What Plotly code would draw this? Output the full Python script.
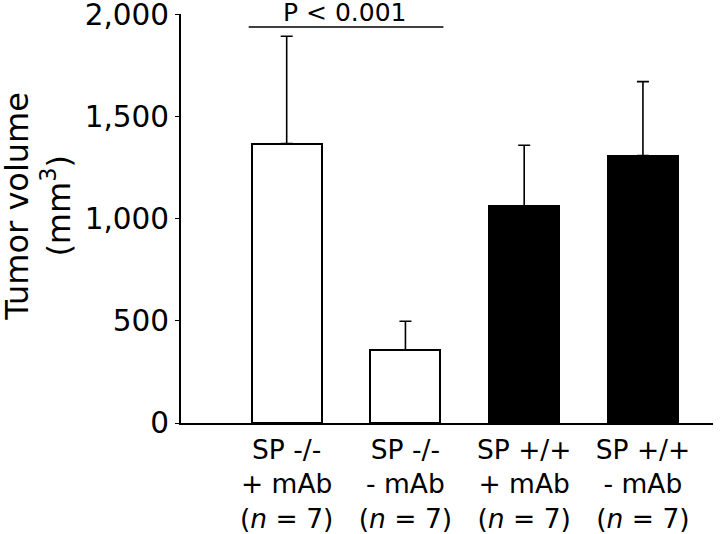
import plotly.graph_objects as go

categories = ["SP -/-<br>+ mAb<br>(<i>n</i> = 7)",
              "SP -/-<br>- mAb<br>(<i>n</i> = 7)",
              "SP +/+<br>+ mAb<br>(<i>n</i> = 7)",
              "SP +/+<br>- mAb<br>(<i>n</i> = 7)"]
positions = [0, 1, 2, 3]
volumes = [1367, 356, 1062, 1308]
errors = [525, 142, 297, 362]
fills = ["white", "white", "black", "black"]
tick_vals_y = [0, 500, 1000, 1500, 2000]
y_title = "Tumor volume<br>(mm<sup>3</sup>)"
p_text = "P < 0.001"
p_level = 1937

FONT = "DejaVu Sans"

fig = go.Figure()
fig.add_trace(go.Bar(
    x=positions, y=volumes, width=0.59,
    marker=dict(color=fills, line=dict(color="black", width=2)),
    error_y=dict(type="data", array=errors, arrayminus=[0]*4, symmetric=False,
                 color="black", thickness=1.6, width=6),
    showlegend=False,
))

fig.add_shape(type="line", xref="x", yref="y", x0=-0.32, x1=1.32,
              y0=p_level, y1=p_level, line=dict(color="black", width=1.5))
fig.add_annotation(x=0.49, y=p_level, xref="x", yref="y", text=p_text,
                   showarrow=False, yanchor="bottom", yshift=-2,
                   font=dict(family=FONT, size=25, color="black"))
fig.add_annotation(x=-0.347, y=0.53, xref="paper", yref="paper", text=y_title,
                   textangle=-90, showarrow=False, xanchor="left", yanchor="middle",
                   align="center",
                   font=dict(family=FONT, size=32, color="black"))

fig.update_layout(
    width=720, height=534,
    margin=dict(l=181, r=7, t=14, b=111, autoexpand=False),
    paper_bgcolor="white", plot_bgcolor="white",
    font=dict(family=FONT, color="black"),
    bargap=0,
)
fig.update_xaxes(
    range=[-0.89, 3.59], tickvals=positions, ticktext=categories,
    showline=True, linecolor="black", linewidth=2,
    ticks="outside", ticklen=2, tickcolor="rgba(0,0,0,0)",
    tickfont=dict(family=FONT, size=26.5, color="black"),
    showgrid=False, zeroline=False, fixedrange=True,
)
fig.update_yaxes(
    range=[0, 2001], tickvals=tick_vals_y, tickformat=",",
    showline=True, linecolor="black", linewidth=2,
    ticks="outside", ticklen=4, tickwidth=1, tickcolor="black",
    tickfont=dict(family=FONT, size=29.5, color="black"),
    ticklabeloverflow="allow",
    showgrid=False, zeroline=False, fixedrange=True,
)

fig.write_html("out.html", config={"displayModeBar": False},
               post_script="document.body.style.margin='0';")
